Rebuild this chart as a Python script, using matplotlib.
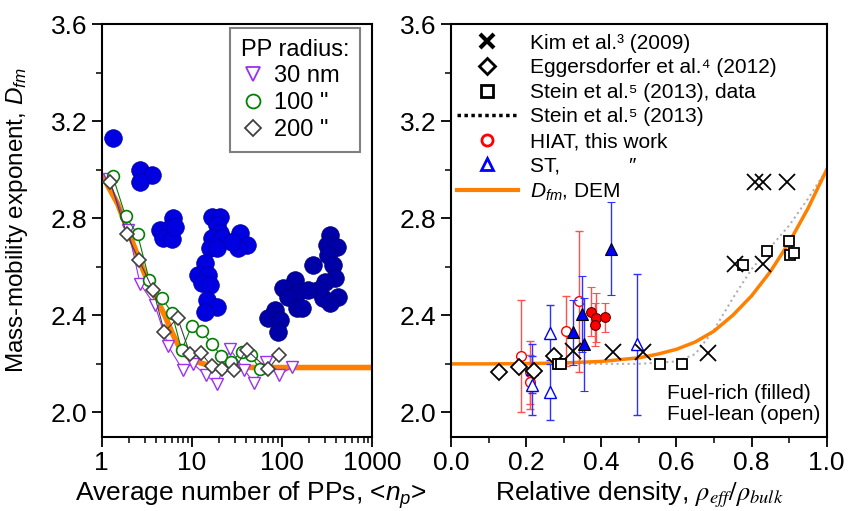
import matplotlib
matplotlib.use("Agg")
import matplotlib.pyplot as plt
from matplotlib.lines import Line2D
from matplotlib.ticker import MultipleLocator, FixedLocator, LogLocator, NullFormatter

plt.rcParams["font.family"] = ["Liberation Sans", "DejaVu Sans"]
plt.rcParams["mathtext.fontset"] = "custom"
plt.rcParams["mathtext.rm"] = "Liberation Sans"
plt.rcParams["mathtext.it"] = "Liberation Sans:italic"

# ---------------- left panel data ----------------
dem_np   = [1, 1.5, 2, 3, 4, 5, 6, 7, 8, 10, 15, 20, 50, 100, 1000]
dem_dfm  = [2.98, 2.86, 2.74, 2.57, 2.47, 2.40, 2.33, 2.28, 2.245, 2.215, 2.195, 2.188, 2.185, 2.185, 2.185]

r30_np   = [1.2, 1.97, 2.66, 3.9, 5.47, 7.88, 10.3, 14.2, 19.2, 26.4, 37.9, 49, 67, 91.9, 129]
r30_dfm  = [2.96, 2.753, 2.530, 2.441, 2.273, 2.176, 2.201, 2.153, 2.118, 2.262, 2.176, 2.121, 2.208, 2.153, 2.187]

r100_np  = [1.32, 1.84, 2.5, 3.37, 4.62, 6.0, 7.69, 9.9, 12.8, 16.9, 21.1, 27.0, 35.5, 45, 56.6]
r100_dfm = [2.975, 2.808, 2.733, 2.544, 2.473, 2.41, 2.256, 2.355, 2.334, 2.280, 2.232, 2.208, 2.249, 2.238, 2.177]

r200_np  = [1.24, 1.89, 2.59, 3.73, 4.94, 6.94, 9.5, 12.5, 16.5, 21.7, 29.4, 40.3, 70, 91.9]
r200_dfm = [2.95, 2.737, 2.627, 2.503, 2.331, 2.389, 2.242, 2.246, 2.191, 2.177, 2.176, 2.258, 2.177, 2.235]

# agglomerate sketches (sphere centres, axes fraction)
agg_blue_x = [0.043,
              0.1415, 0.185, 0.1415,
              0.265, 0.215, 0.252, 0.228, 0.259, 0.271,
              0.407, 0.437, 0.425, 0.437, 0.407, 0.443, 0.400, 0.425, 0.511, 0.536,
              0.505, 0.480, 0.382, 0.357, 0.394, 0.370, 0.400, 0.388, 0.425, 0.382]
agg_blue_y = [0.723,
              0.646, 0.634, 0.618,
              0.529, 0.501, 0.505, 0.481, 0.478, 0.509,
              0.533, 0.533, 0.513, 0.493, 0.481, 0.481, 0.457, 0.457, 0.493, 0.465,
              0.457, 0.473, 0.420, 0.392, 0.392, 0.372, 0.368, 0.331, 0.315, 0.303]
agg_navy_x = [0.844, 0.831, 0.868, 0.837, 0.782, 0.856, 0.862, 0.825, 0.874, 0.844, 0.819, 0.800,
              0.714, 0.671, 0.727, 0.764, 0.690, 0.721, 0.739, 0.640, 0.616, 0.659, 0.653]
agg_navy_y = [0.489, 0.465, 0.460, 0.440, 0.416, 0.416, 0.384, 0.376, 0.339, 0.323, 0.335, 0.355,
              0.380, 0.360, 0.351, 0.355, 0.339, 0.311, 0.311, 0.307, 0.287, 0.283, 0.254]

# ---------------- right panel data ----------------
kim_x = [0.324, 0.432, 0.512, 0.685, 0.756, 0.830, 0.809, 0.831, 0.894]
kim_y = [2.255, 2.25, 2.25, 2.245, 2.61, 2.61, 2.95, 2.95, 2.95]

egg_x = [0.129, 0.182, 0.222, 0.274]
egg_y = [2.168, 2.186, 2.172, 2.232]

stein_x = [0.285, 0.293, 0.556, 0.614, 0.776, 0.840, 0.900, 0.902, 0.913]
stein_y = [2.2, 2.2, 2.2, 2.2, 2.606, 2.665, 2.706, 2.647, 2.657]

stein_model_x = [0.0, 0.3, 0.5, 0.6, 0.65, 0.7, 0.75, 0.8, 0.85, 0.9, 0.95, 1.0]
stein_model_y = [2.2, 2.2, 2.2, 2.21, 2.24, 2.34, 2.47, 2.59, 2.68, 2.77, 2.88, 3.0]

hiat_rich_x = [0.373, 0.385, 0.383, 0.409]
hiat_rich_y = [2.415, 2.39, 2.362, 2.392]
hiat_rich_e = [0.10, 0.10, 0.09, 0.06]
hiat_lean_x = [0.186, 0.210, 0.210, 0.306, 0.341]
hiat_lean_y = [2.232, 2.166, 2.125, 2.336, 2.458]
hiat_lean_e = [0.23, 0.13, 0.11, 0.145, 0.29]

st_rich_x = [0.326, 0.349, 0.353, 0.425]
st_rich_y = [2.33, 2.405, 2.28, 2.675]
st_rich_e = [0.135, 0.155, 0.19, 0.19]
st_lean_x = [0.215, 0.215, 0.264, 0.264, 0.496]
st_lean_y = [2.18, 2.111, 2.329, 2.084, 2.28]
st_lean_e = [0.10, 0.12, 0.115, 0.114, 0.29]

dem_rho = [0.0, 0.1, 0.2, 0.3, 0.4, 0.5, 0.55, 0.6, 0.65, 0.7, 0.75, 0.8, 0.85, 0.9, 0.95, 1.0]
dem_rho_dfm = [2.2, 2.2, 2.201, 2.204, 2.21, 2.225, 2.24, 2.26, 2.29, 2.335, 2.40, 2.48, 2.58, 2.70, 2.84, 3.0]

ORANGE = "#ff8000"
PURPLE = "#9a30f0"
GREEN = "#008000"
GREY = "#404040"

fig = plt.figure(figsize=(8.52, 5.11), dpi=100)
axL = fig.add_axes([0.1194, 0.1454, 0.3176, 0.8076])
axR = fig.add_axes([0.5293, 0.1454, 0.4410, 0.8076])

# ---- left ----
axL.scatter(agg_blue_x, agg_blue_y, s=160, color="#0000e0", edgecolors="#0000b0",
            linewidths=0.6, transform=axL.transAxes, zorder=1)
axL.scatter(agg_navy_x, agg_navy_y, s=160, color="#0000a8", edgecolors="#000080",
            linewidths=0.6, transform=axL.transAxes, zorder=1)

axL.plot(dem_np, dem_dfm, color=ORANGE, lw=4, zorder=2, solid_capstyle="butt")
axL.plot(r30_np, r30_dfm, color=PURPLE, lw=0.8, marker="v", ms=9, mfc="white",
         mec=PURPLE, mew=1.0, zorder=3)
axL.plot(r100_np, r100_dfm, color=GREEN, lw=0.8, marker="o", ms=8.5, mfc="white",
         mec=GREEN, mew=1.2, zorder=4)
axL.plot(r200_np, r200_dfm, color=GREY, lw=0.8, marker="D", ms=7.5, mfc="white",
         mec=GREY, mew=1.2, zorder=5)

axL.set_xscale("log")
axL.set_xlim(1, 1000)
axL.set_ylim(1.9, 3.6)
axL.xaxis.set_major_locator(FixedLocator([1, 10, 100, 1000]))
axL.set_xticklabels(["1", "10", "100", "1000"])
axL.xaxis.set_minor_locator(LogLocator(base=10, subs=range(2, 10)))
axL.xaxis.set_minor_formatter(NullFormatter())
axL.yaxis.set_minor_locator(MultipleLocator(0.2))
axL.set_yticks([2.0, 2.4, 2.8, 3.2, 3.6])
axL.set_yticklabels(["2.0", "2.4", "2.8", "3.2", "3.6"])
axL.set_xlabel("Average number of PPs, <$n_p$>", fontsize=19, labelpad=3)
axL.xaxis.label.set_x(0.55)
axL.set_ylabel("Mass-mobility exponent, $D_{fm}$", fontsize=17.5)
axL.yaxis.set_label_coords(-0.265, 0.525)

legL = axL.legend(
    handles=[Line2D([], [], ls="none", marker="v", ms=10, mfc="none", mec=PURPLE, mew=1.3),
             Line2D([], [], ls="none", marker="o", ms=10, mfc="none", mec=GREEN, mew=1.3),
             Line2D([], [], ls="none", marker="D", ms=8.5, mfc="none", mec=GREY, mew=1.3)],
    labels=["30 nm", '100 "', '200 "'], title="PP radius:", title_fontsize=17,
    fontsize=17, loc="upper right", bbox_to_anchor=(0.955, 0.99), borderaxespad=0,
    frameon=True, fancybox=False, edgecolor="#808080", framealpha=1, handlelength=1.0,
    handletextpad=0.4, labelspacing=0.2, borderpad=0.45, alignment="left")
legL.get_frame().set_linewidth(1.5)

# ---- right ----
axR.plot(stein_model_x, stein_model_y, color="#b0b0b0", ls=":", lw=1.5, zorder=1)
axR.plot(dem_rho, dem_rho_dfm, color=ORANGE, lw=2.5, zorder=2)

axR.errorbar(hiat_lean_x, hiat_lean_y, yerr=hiat_lean_e, fmt="o", ms=7, mfc="white",
             mec="red", mew=1.0, ecolor="#ff5050", elinewidth=1.0, capsize=3, zorder=3)
axR.errorbar(st_lean_x, st_lean_y, yerr=st_lean_e, fmt="^", ms=8, mfc="white",
             mec="#0000ff", mew=1.0, ecolor="#3030ff", elinewidth=1.0, capsize=3, zorder=3)
axR.errorbar(hiat_rich_x, hiat_rich_y, yerr=hiat_rich_e, fmt="o", ms=7, mfc="red",
             mec="#600000", mew=0.8, ecolor="#ff5050", elinewidth=1.0, capsize=3, zorder=4)
axR.errorbar(st_rich_x, st_rich_y, yerr=st_rich_e, fmt="^", ms=8, mfc="#0000ff",
             mec="black", mew=0.8, ecolor="#3030ff", elinewidth=1.0, capsize=3, zorder=4)

axR.plot(egg_x, egg_y, ls="none", marker="D", ms=8, mfc="white", mec="black", mew=1.3, zorder=5)
axR.plot(stein_x, stein_y, ls="none", marker="s", ms=7, mfc="white", mec="black", mew=1.3, zorder=5)
axR.plot(kim_x, kim_y, ls="none", marker="x", ms=11, mec="black", mew=1.3, zorder=6)

axR.set_xlim(0, 1)
axR.set_ylim(1.9, 3.6)
axR.xaxis.set_minor_locator(MultipleLocator(0.1))
axR.set_xticks([0.0, 0.2, 0.4, 0.6, 0.8, 1.0])
axR.set_xticklabels(["0.0", "0.2", "0.4", "0.6", "0.8", "1.0"])
axR.yaxis.set_minor_locator(MultipleLocator(0.2))
axR.set_yticks([2.0, 2.4, 2.8, 3.2, 3.6])
axR.set_yticklabels(["2.0", "2.4", "2.8", "3.2", "3.6"])
axR.set_xlabel(r"Relative density, $\rho_{eff}/\rho_{bulk}$", fontsize=19,
               math_fontfamily="stix", labelpad=3)

legR = axR.legend(
    handles=[Line2D([], [], ls="none", marker="x", ms=10, mec="black", mew=3),
             Line2D([], [], ls="none", marker="D", ms=8, mfc="none", mec="black", mew=2),
             Line2D([], [], ls="none", marker="s", ms=8, mfc="none", mec="black", mew=2),
             Line2D([], [], color="black", ls=(0, (1, 1)), lw=2.5),
             Line2D([], [], ls="none", marker="o", ms=8, mfc="none", mec="red", mew=2),
             Line2D([], [], ls="none", marker="^", ms=8, mfc="none", mec="#0000ff", mew=2),
             Line2D([], [], color=ORANGE, lw=3)],
    labels=["Kim et al.\u00b3 (2009)", "Eggersdorfer et al.\u2074 (2012)",
            "Stein et al.\u2075 (2013), data", "Stein et al.\u2075 (2013)",
            "HIAT, this work", "ST,            \u2033", "$D_{fm}$, DEM"],
    loc="upper left", bbox_to_anchor=(0.0, 0.992), frameon=False, fontsize=15,
    handlelength=2.9, handletextpad=0.6, labelspacing=0.27, borderpad=0.2, borderaxespad=0.1)

axR.text(0.574, 0.03, "Fuel-rich (filled)\nFuel-lean (open)", transform=axR.transAxes,
         fontsize=15, ha="left", va="bottom", linespacing=1.15)

for ax in (axL, axR):
    for s in ax.spines.values():
        s.set_linewidth(1.5)
    ax.tick_params(which="major", direction="out", length=7, width=1.3, labelsize=19)
    ax.tick_params(which="minor", direction="out", length=4, width=1.1)
    ax.tick_params(top=False, right=False, which="both")

fig.savefig("out.png", dpi=100)
